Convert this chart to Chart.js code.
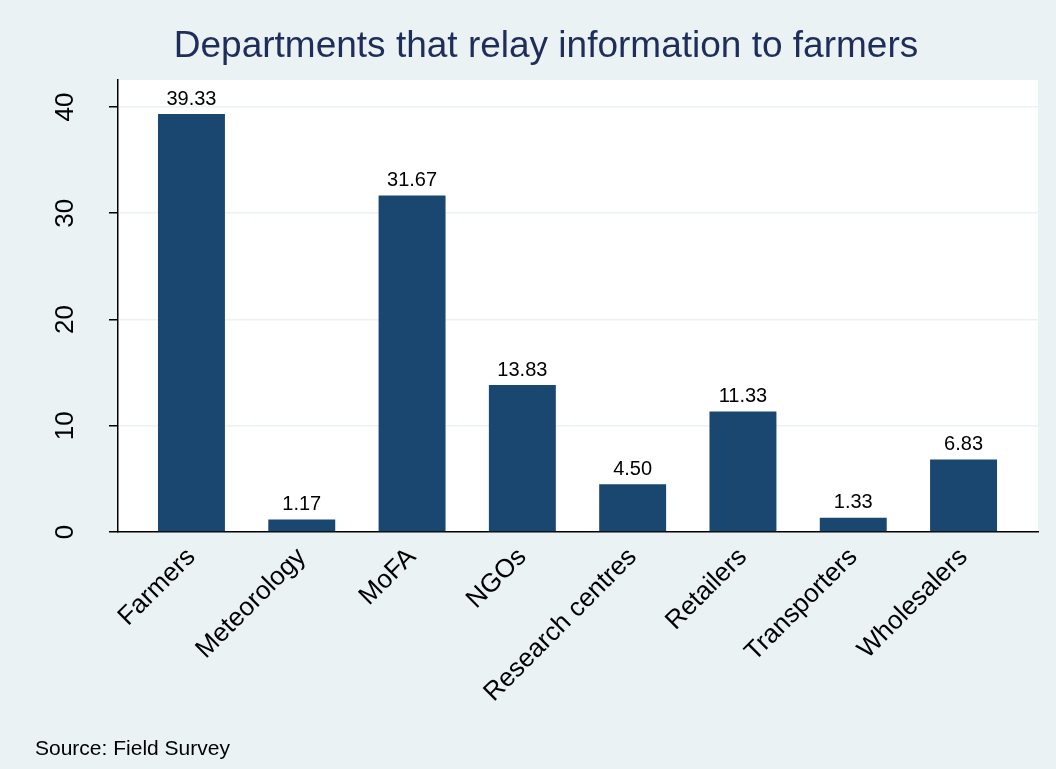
<!DOCTYPE html>
<html>
<head>
<meta charset="utf-8">
<script src="https://cdn.jsdelivr.net/npm/chart.js@4"></script>
<style>
  body { margin: 0; background: #eaf2f3; }
  #wrap { width: 1056px; height: 769px; }
</style>
</head>
<body>
<div id="wrap"><canvas id="chart" width="1056" height="769"></canvas></div>
<script>
// Chart data
const categories = ['Farmers', 'Meteorology', 'MoFA', 'NGOs', 'Research centres', 'Retailers', 'Transporters', 'Wholesalers'];
const shares = [39.33, 1.17, 31.67, 13.83, 4.50, 11.33, 1.33, 6.83];
const yTicks = [0, 10, 20, 30, 40];

const titleText = 'Departments that relay information to farmers';
const noteText = 'Source: Field Survey';
const FONT = 'Arial, "Liberation Sans", sans-serif';

// background, plot region, title, note, value labels, y tick labels
const stataLook = {
    id: 'stataLook',
    beforeDraw(chart) {
        const ctx = chart.ctx;
        const a = chart.chartArea;
        ctx.save();
        ctx.fillStyle = '#eaf2f3';
        ctx.fillRect(0, 0, chart.width, chart.height);
        ctx.fillStyle = '#ffffff';
        ctx.fillRect(a.left, a.top, a.right - a.left, a.bottom - a.top);
        ctx.restore();
    },
    afterDatasetsDraw(chart) {
        const ctx = chart.ctx;
        const meta = chart.getDatasetMeta(0);
        ctx.save();
        ctx.fillStyle = '#000';
        ctx.font = '20px ' + FONT;
        ctx.textAlign = 'center';
        ctx.textBaseline = 'bottom';
        meta.data.forEach((bar, i) => {
            ctx.fillText(shares[i].toFixed(2), bar.x, bar.y - 5);
        });
        ctx.restore();
    },
    afterDraw(chart) {
        const ctx = chart.ctx;
        const y = chart.scales.y;
        ctx.save();
        // y tick labels, rotated like Stata
        ctx.fillStyle = '#000';
        ctx.font = '26px ' + FONT;
        ctx.textAlign = 'center';
        ctx.textBaseline = 'middle';
        yTicks.forEach(v => {
            ctx.save();
            ctx.translate(66, y.getPixelForValue(v));
            ctx.rotate(-Math.PI / 2);
            ctx.fillText(String(v), 0, 0);
            ctx.restore();
        });
        // title
        ctx.fillStyle = '#1e2d5a';
        ctx.font = '37px ' + FONT;
        ctx.fillText(titleText, 546, 47);
        // note
        ctx.fillStyle = '#000';
        ctx.font = '21px ' + FONT;
        ctx.textAlign = 'left';
        ctx.fillText(noteText, 35, 749);
        ctx.restore();
    }
};

new Chart(document.getElementById('chart'), {
    type: 'bar',
    data: {
        datasets: [{
            data: categories.map((c, i) => ({ x: i, y: shares[i] })),
            backgroundColor: '#1a476f',
            borderColor: '#1a476f',
            borderWidth: 0,
            categoryPercentage: 1,
            barPercentage: 0.607
        }]
    },
    options: {
        responsive: false,
        animation: false,
        layout: { padding: { top: 80, right: 18, bottom: 0, left: 0 } },
        plugins: {
            legend: { display: false },
            tooltip: { enabled: false }
        },
        scales: {
            x: {
                type: 'linear',
                offset: false,
                min: -0.666,
                max: 7.675,
                afterBuildTicks(scale) {
                    scale.ticks = categories.map((c, i) => ({ value: i }));
                },
                afterFit(scale) { scale.height = 237; },
                grid: { display: false, offset: false },
                border: { display: true, color: '#000', width: 1.5 },
                ticks: {
                    autoSkip: false,
                    minRotation: 45,
                    maxRotation: 45,
                    padding: 2,
                    color: '#000',
                    font: { family: FONT, size: 26 },
                    callback: (v) => categories[v]
                }
            },
            y: {
                min: 0,
                max: 42.54,
                afterBuildTicks(scale) {
                    scale.ticks = yTicks.map(v => ({ value: v }));
                },
                afterFit(scale) { scale.width = 118; },
                grid: {
                    color: '#eaf2f3',
                    lineWidth: 1.5,
                    tickColor: '#000',
                    tickLength: 9
                },
                border: { display: true, color: '#000', width: 1.5 },
                ticks: { display: false }
            }
        }
    },
    plugins: [stataLook]
});
</script>
</body>
</html>
